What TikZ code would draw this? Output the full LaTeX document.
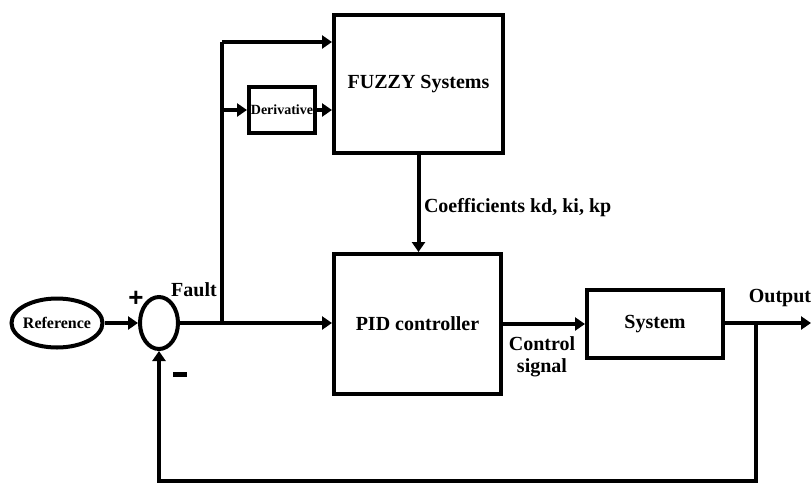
\documentclass[tikz,border=0pt]{standalone}
\usepackage{fontspec}
\setmainfont{Liberation Serif}
\newfontfamily\signfont{Liberation Sans}
\usetikzlibrary{shapes.geometric,arrows.meta}

\begin{document}
\begin{tikzpicture}[x=1pt,y=-1pt,line width=4pt,
	blk/.style={draw,rectangle,inner sep=0pt,font=\fontsize{20}{22}\selectfont\bfseries},
	lbl/.style={inner sep=0pt,font=\fontsize{20}{22}\selectfont\bfseries},
	sig/.style={-{Triangle[length=10pt,width=13pt]}}]
	\useasboundingbox (0,0) rectangle (812,483);
	\node[draw,ellipse,minimum width=91,minimum height=49,inner sep=0pt,
		label={[lbl,font=\fontsize{16}{18}\selectfont\bfseries]center:Reference}] (ref) at (57,323) {};
	\node[draw,ellipse,minimum width=38,minimum height=52,inner sep=0pt] (sum) at (159,323) {};
	\node[blk,minimum width=169,minimum height=138] (fuzzy) at (418.5,84) {FUZZY Systems};
	\node[blk,minimum width=66,minimum height=46,font=\fontsize{14}{16}\selectfont\bfseries] (deriv) at (282,110) {Derivative};
	\node[blk,minimum width=167,minimum height=140] (pid) at (417.5,324) {PID controller};
	\node[blk,minimum width=136,minimum height=68] (sys) at (655,324) {System};
	\coordinate (fj) at (222,323);
	\coordinate (ftop) at (222,42);
	\coordinate (oj) at (756,323);
	\coordinate (out) at (811,323);
	\coordinate (fb) at (756,481);
	\node[lbl,font=\fontsize{26}{26}\selectfont\bfseries\signfont] (plus) at (136,299) {+};
	\node[lbl] (minus) at (180,374) {\rule{14pt}{5pt}};
	\node[lbl] (fault) at (194,290) {Fault};
	\node[lbl,anchor=west] (coef) at (422,208) {Coefficients kd, ki, kp};
	\node[lbl,align=center] (ctrl) at (542,357) {Control\\signal};
	\node[lbl] (outl) at (780,298) {Output};
	\draw[sig] (ref) -- (sum);
	\draw[sig] (sum.east) -- (sum.east -| pid.west);
	\draw (fj) -- (ftop);
	\draw[sig] (ftop) -- (ftop -| fuzzy.west);
	\draw[sig] (deriv.west -| fj) -- (deriv.west);
	\draw[sig] (deriv.east) -- (deriv.east -| fuzzy.west);
	\draw[sig] (fuzzy.south) -- (fuzzy.south |- pid.north);
	\draw[sig] (pid.east |- sys.west) -- (sys.west);
	\draw[sig] (sys.east |- out) -- (out);
	\draw[sig] (oj) -- (fb) -- (fb -| sum.south) -- (sum.south);
\end{tikzpicture}
\end{document}
